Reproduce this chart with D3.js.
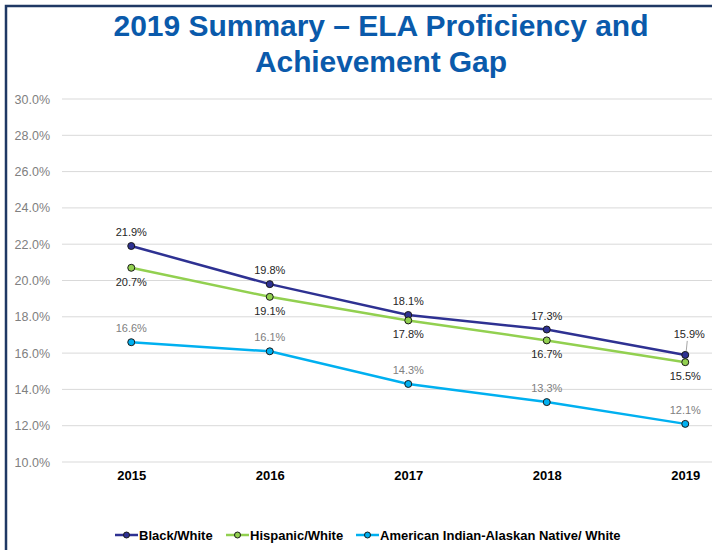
<!DOCTYPE html>
<html><head><meta charset="utf-8">
<script src="https://cdn.jsdelivr.net/npm/d3@7"></script>
<style>body{margin:0;background:#fff;}svg{display:block;font-family:"Liberation Sans",Arial,sans-serif;}</style>
</head><body>
<svg id="c" width="712" height="550"></svg>
<script>
const years = ["2015","2016","2017","2018","2019"];
const blackWhite = [21.9, 19.8, 18.1, 17.3, 15.9];
const hispanicWhite = [20.7, 19.1, 17.8, 16.7, 15.5];
const aianWhite = [16.6, 16.1, 14.3, 13.3, 12.1];
const yTicks = [10, 12, 14, 16, 18, 20, 22, 24, 26, 28, 30];
const seriesNames = ["Black/White", "Hispanic/White", "American Indian-Alaskan Native/ White"];

const series = [
  {name: seriesNames[0], values: blackWhite, color: "#2e3192", labelPos: "above", labelColor: "#262626"},
  {name: seriesNames[1], values: hispanicWhite, color: "#92d050", labelPos: "below", labelColor: "#262626"},
  {name: seriesNames[2], values: aianWhite, color: "#00b0f0", labelPos: "above", labelColor: "#808080"}
];

const svg = d3.select("#c");
// border
svg.append("path").attr("d","M6,550 V6 H712").attr("fill","none").attr("stroke","#1f3864").attr("stroke-width",2.5);

// title
const title = svg.append("text").attr("text-anchor","middle").attr("fill","#0a5aab")
  .attr("font-weight","bold").attr("font-size",30);
title.append("tspan").attr("x",381).attr("y",36).attr("textLength",535).attr("lengthAdjust","spacing").text("2019 Summary – ELA Proficiency and");
title.append("tspan").attr("x",381).attr("y",72).attr("textLength",252).attr("lengthAdjust","spacing").text("Achievement Gap");

const x = d3.scalePoint().domain(years).range([62, 754.5]).padding(0.5);
const y = d3.scaleLinear().domain([10, 30]).range([462, 99]);

// gridlines
svg.append("g").selectAll("line").data(yTicks).join("line")
  .attr("x1",62).attr("x2",712).attr("y1",d=>y(d)).attr("y2",d=>y(d))
  .attr("stroke","#d9d9d9").attr("stroke-width",1);

// y axis
const yAxis = svg.append("g").attr("transform","translate(50,0)")
  .call(d3.axisLeft(y).tickValues(yTicks).tickFormat(d=>d.toFixed(1)+"%").tickSize(0).tickPadding(0));
yAxis.select(".domain").remove();
yAxis.selectAll("text").attr("fill","#808080").attr("font-size",12.5).attr("font-family","Liberation Sans, Arial, sans-serif");

// x axis
const xAxis = svg.append("g").attr("transform","translate(0,470)")
  .call(d3.axisBottom(x).tickSize(0).tickPadding(0));
xAxis.select(".domain").remove();
xAxis.selectAll("text").attr("fill","#000").attr("font-size",13).attr("font-weight","bold")
  .attr("font-family","Liberation Sans, Arial, sans-serif").attr("dy","0.8em");

const line = d3.line().x((d,i)=>x(years[i])).y(d=>y(d));
series.forEach(s=>{
  svg.append("path").datum(s.values).attr("d",line).attr("fill","none")
    .attr("stroke",s.color).attr("stroke-width",2.5);
});
series.forEach(s=>{
  svg.append("g").selectAll("circle").data(s.values).join("circle")
    .attr("cx",(d,i)=>x(years[i])).attr("cy",d=>y(d)).attr("r",3.5)
    .attr("fill",s.color).attr("stroke","#1a1a1a").attr("stroke-width",1);
});

// data labels
series.forEach((s,si)=>{
  svg.append("g").selectAll("text").data(s.values).join("text")
    .attr("x",(d,i)=>x(years[i]) + (si===0 && i===4 ? 4 : 0))
    .attr("y",(d,i)=>{
      if (s.labelPos==="below") return y(d)+18;
      if (si===0 && i===4) return y(d)-17;
      return y(d)-10;
    })
    .attr("text-anchor","middle").attr("font-size",11).attr("fill",s.labelColor)
    .text(d=>d.toFixed(1)+"%");
});
// leader line for last Black/White label
svg.append("line").attr("x1",x("2019")+2).attr("y1",y(blackWhite[4])-14)
  .attr("x2",x("2019")+1).attr("y2",y(blackWhite[4])-4).attr("stroke","#a6a6a6").attr("stroke-width",1);

// legend
const legend = svg.append("g").attr("transform","translate(0,535)");
const itemX = [115, 226, 356];
series.forEach((s,i)=>{
  const g = legend.append("g").attr("transform",`translate(${itemX[i]},0)`);
  g.append("line").attr("x1",0).attr("x2",23).attr("y1",0).attr("y2",0).attr("stroke",s.color).attr("stroke-width",2.5);
  g.append("circle").attr("cx",11.5).attr("cy",0).attr("r",3).attr("fill",s.color).attr("stroke","#1a1a1a").attr("stroke-width",1);
  g.append("text").attr("x",24).attr("y",4.5).attr("font-size",13).attr("font-weight","bold").attr("fill","#000").text(s.name);
});
</script>
</body></html>
